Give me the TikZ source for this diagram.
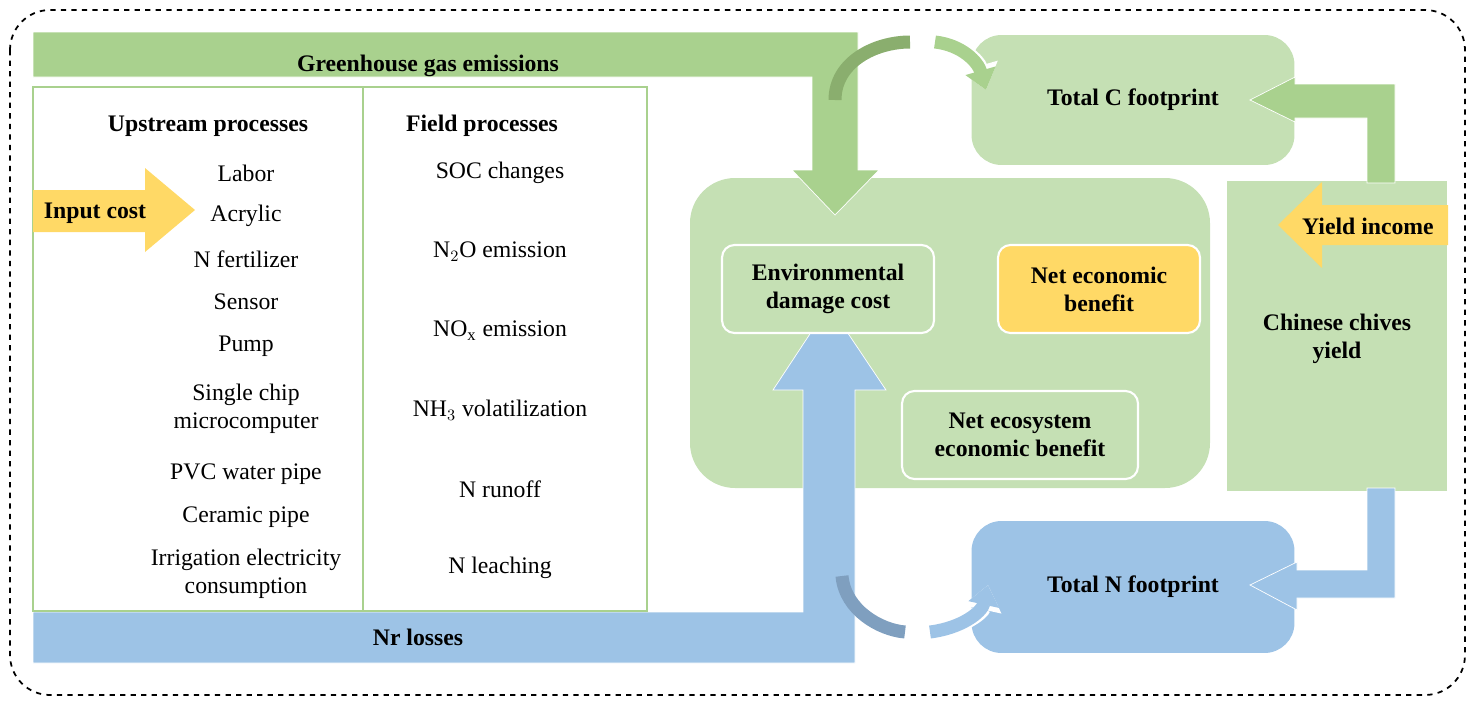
\documentclass[tikz,border=0pt]{standalone}
\usepackage{fontspec}
\setmainfont{Liberation Serif}
\usetikzlibrary{arrows.meta,positioning}
\definecolor{ghg}{HTML}{A9D18E}
\definecolor{pale}{HTML}{C5E0B4}
\definecolor{nr}{HTML}{9DC3E6}
\definecolor{gold}{HTML}{FFD966}
\definecolor{darkg}{HTML}{8AAE6E}
\definecolor{darkb}{HTML}{7F9FBF}
\tikzset{
	txt/.style={font=\fontsize{13.5}{16}\selectfont,align=center},
	bold/.style={txt,font=\fontsize{13.5}{16}\selectfont\bfseries},
	box/.style={bold,draw=white,line width=1.2pt,rounded corners=0.25cm,inner sep=0pt},
	curl/.style={line width=0.26cm},
	edge/.style={preaction={draw=white,line width=0.32cm,-{Triangle[length=0.5cm,width=0.74cm]}}},
}
\begin{document}
\begin{tikzpicture}[x=0.02cm,y=-0.02cm,>={Triangle[length=0.4cm,width=0.6cm]}]
\useasboundingbox (0,0) rectangle (1475,703);

\draw[dashed,line width=1pt,rounded corners=0.8cm] (10,10) rectangle (1465,695);

% centre, footprints and yield
\fill[pale,rounded corners=0.9cm] (690,178) rectangle (1210,488);
\node[box,draw=none,fill=pale,minimum width=6.46cm,minimum height=2.6cm,rounded corners=0.6cm] (tc) at (1133,100) {Total C footprint};
\node[box,draw=none,fill=nr,minimum width=6.46cm,minimum height=2.64cm,rounded corners=0.6cm] (tn) at (1133,587) {Total N footprint};
\node[box,draw=none,fill=pale,rounded corners=0pt,minimum width=4.42cm,minimum height=6.2cm,text depth=0pt] (yld) at (1337,336) {Chinese chives\\yield};

% greenhouse gas arrow
\fill[ghg,draw=white] (33,32)--(858,32)--(858,170)--(879,170)--(835,215)--(792,170)--(812,170)--(812,77)--(33,77)--cycle;
\node[bold] (ghg) at (428,66) {Greenhouse gas emissions};

% Nr arrow
\fill[nr,draw=white] (33,612)--(803,612)--(803,390)--(773,390)--(829,305)--(886,390)--(855,390)--(855,663)--(33,663)--cycle;
\node[bold] (nrl) at (418,637) {Nr losses};

\node[box,fill=pale,minimum width=4.24cm,minimum height=1.76cm] (edc) at (828,289) {Environmental\\damage cost};
\node[box,fill=gold,minimum width=4.04cm,minimum height=1.76cm] (neb) at (1099,289) {Net economic\\benefit};
\node[box,fill=pale,minimum width=4.72cm,minimum height=1.76cm] (neeb) at (1020,435) {Net ecosystem\\economic benefit};

% process table
\draw[ghg,line width=0.8pt] (33,87) rectangle (647,611) (363,87)--(363,611);
\node[bold] (up) at (208,126) {Upstream processes};
\node[bold] (fp) at (482,126) {Field processes};
\foreach \y/\t in {173/Labor,216/Acrylic,259/N fertilizer,302/Sensor,346/Pump,
	409/Single chip\\microcomputer,474/PVC water pipe,517/Ceramic pipe,574/Irrigation electricity\\consumption}
	\node[txt] at (246,\y) {\t};
\foreach \y/\t in {173/SOC changes,252/N$_2$O emission,331/NO$_\mathrm{x}$ emission,
	410/NH$_3$ volatilization,489/N runoff,568/N leaching}
	\node[txt] at (500,\y) {\t};

% input cost
\fill[gold] (33,190)--(145,190)--(145,168)--(195,210)--(145,252)--(145,232)--(33,232)--cycle;
\node[bold] (ic) at (95,213) {Input cost};

% side arrows
\fill[ghg,draw=white] (1367,183)--(1367,118)--(1295,118)--(1295,122)--(1250,100)--(1295,77)--(1295,84)--(1395,84)--(1395,183)--cycle;
\fill[nr,draw=white] (1367,488)--(1367,570)--(1297,570)--(1297,562)--(1250,585)--(1297,610)--(1297,598)--(1395,598)--(1395,488)--cycle;
\fill[gold] (1448,205)--(1322,205)--(1322,182)--(1278,225)--(1322,268)--(1322,245)--(1448,245)--cycle;
\node[bold] (yi) at (1368,226) {Yield income};

% curved arrows
\draw[darkg,curl] (835,100) .. controls (835,62) and (875,42) .. (910,42);
\draw[ghg,curl,edge,->] (935,42) .. controls (962,45) and (978,62) .. (986,90);
\draw[darkb,curl] (842,576) .. controls (845,610) and (880,630) .. (905,632);
\draw[nr,curl,edge,->] (930,632) .. controls (962,628) and (982,612) .. (988,585);
\end{tikzpicture}
\end{document}
